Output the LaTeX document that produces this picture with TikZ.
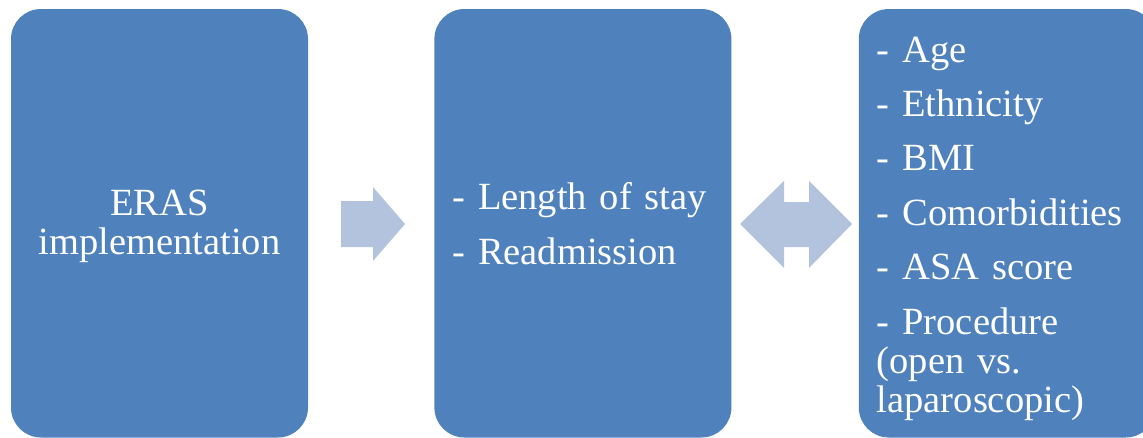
\documentclass[tikz,border=0pt]{standalone}
\usepackage{fontspec}
\setmainfont{Liberation Serif}
\usepackage{tikz}
\usetikzlibrary{positioning}
\definecolor{boxblue}{HTML}{4F81BD}
\definecolor{arrowblue}{HTML}{B3C2DD}
\newcommand{\stagefont}{\fontsize{38.5}{39}\selectfont\spaceskip=7.3pt plus 2pt minus 1pt\relax}
\tikzset{
    stagebox/.style={draw=none, fill=boxblue, rounded corners=30pt, text=white,
        minimum width=297pt, minimum height=428.5pt, inner xsep=18pt,
        font=\stagefont},
    listbox/.style={stagebox, text width=261pt, align=left},
    blockarrow/.style={fill=arrowblue, draw=none},
}

\begin{document}
\begin{tikzpicture}[x=1pt, y=-1pt]
	\useasboundingbox (0,0) rectangle (1143,437);
	\clip (0,0) rectangle (1143,437);
	\node[stagebox, align=center] (eras) at (159.5,223.25) {\rule{0pt}{32pt}ERAS\\implementation};
	\node[listbox, right=126pt of eras] (outcome) {- Length of stay\\[16pt]- Readmission};
	\node[listbox, right=127pt of outcome] (factors) {\rule{0pt}{36pt}- Age\\[15.5pt]- Ethnicity\\[15pt]- BMI\\[15.5pt]- Comorbidities\\[15.5pt]- ASA score\\[15.5pt]- Procedure\\(open vs.\\laparoscopic)};
	% block arrows between the stages
	\fill[blockarrow] (341,201) -- (373,201) -- (373,187) -- (405,224)
		-- (373,261) -- (373,247) -- (341,247) -- cycle;
	\fill[blockarrow] (740,224) -- (784,181) -- (784,202) -- (809,202) -- (809,181)
		-- (852,224) -- (809,268) -- (809,247) -- (784,247) -- (784,268) -- cycle;
\end{tikzpicture}
\end{document}
